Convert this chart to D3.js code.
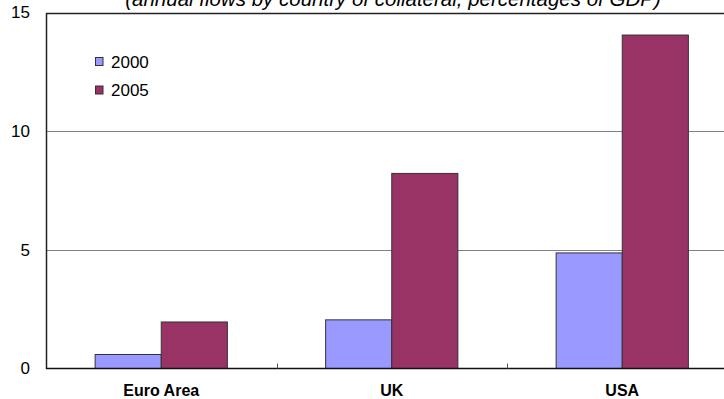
<!DOCTYPE html>
<html><head><meta charset="utf-8">
<script src="https://cdn.jsdelivr.net/npm/d3@7"></script>
<style>body{margin:0;background:#fff}svg{display:block}</style>
</head><body>
<script>
const categories = ["Euro Area", "UK", "USA"];
const seriesNames = ["2000", "2005"];
const values2000 = [0.59, 2.05, 4.87];
const values2005 = [1.96, 8.22, 14.05];
const yTicks = [0, 5, 10, 15];
const title = "(annual flows by country of collateral, percentages of GDP)";
const colors = ["#9999FF", "#993366"];

(function () {
const W = 724, H = 399;
const mL = 46, mR = 737.5, mT = 12.5, mB = 368.5;
const FONT = "Liberation Sans, Arial, sans-serif";
const svg = d3.select("body").append("svg").attr("width", W).attr("height", H);

const x = d3.scaleBand().domain(categories).range([mL, mR]);
const y = d3.scaleLinear().domain([0, 15]).range([mB, mT]);
const inner = d3.scaleBand().domain(seriesNames).range([0, x.bandwidth()]).paddingOuter(0.743);

// title
svg.append("text").attr("x", 393).attr("y", 5.5).attr("text-anchor", "middle")
  .attr("font-family", FONT).attr("font-size", 20.5)
  .attr("font-style", "italic").text(title);

// gridlines
svg.append("g").selectAll("line").data(yTicks.filter(d => d > 0)).join("line")
  .attr("x1", mL).attr("x2", W).attr("y1", d => Math.round(y(d)) + 0.5).attr("y2", d => Math.round(y(d)) + 0.5)
  .attr("stroke", d => d === 15 ? "#222" : "#808080").attr("stroke-width", d => d === 15 ? 1.5 : 1);

// bars
const data = categories.map((c, i) => ({c, vals: [values2000[i], values2005[i]]}));
const g = svg.append("g");
data.forEach(d => {
  d.vals.forEach((v, j) => {
    g.append("rect")
      .attr("x", x(d.c) + inner(seriesNames[j]))
      .attr("y", y(v))
      .attr("width", inner.bandwidth())
      .attr("height", y(0) - y(v))
      .attr("fill", colors[j]).attr("stroke", "#333").attr("stroke-width", 1);
  });
});

// y axis
const yAxis = d3.axisLeft(y).tickValues(yTicks).tickSize(0).tickPadding(16);
const ya = svg.append("g").attr("transform", `translate(${mL},0)`).call(yAxis);
ya.select(".domain").attr("stroke", "#222").attr("stroke-width", 1.5);
ya.selectAll("text").attr("font-family", FONT).attr("font-size", 17).attr("fill", "#000");

// x axis
const xa = svg.append("g").attr("transform", `translate(0,${mB})`);
xa.append("line").attr("x1", mL).attr("x2", W).attr("y1", 0).attr("y2", 0).attr("stroke", "#111").attr("stroke-width", 1.5);
xa.selectAll("line.tk").data(categories.slice(1)).join("line").attr("class", "tk")
  .attr("x1", d => Math.round(x(d)) + 0.5).attr("x2", d => Math.round(x(d)) + 0.5).attr("y1", 0).attr("y2", -5)
  .attr("stroke", "#555").attr("stroke-width", 1);
xa.selectAll("text").data(categories).join("text")
  .attr("x", d => x(d) + x.bandwidth() / 2).attr("y", 27).attr("text-anchor", "middle")
  .attr("font-family", FONT).attr("font-size", 16).attr("font-weight", "bold")
  .text(d => d);

// legend
const lg = svg.append("g");
seriesNames.forEach((s, i) => {
  const yy = 57 + i * 28.5;
  lg.append("rect").attr("x", 95.5).attr("y", yy + 0.5).attr("width", 7.5).attr("height", 8)
    .attr("fill", colors[i]).attr("stroke", "#333").attr("stroke-width", 1);
  lg.append("text").attr("x", 111).attr("y", yy + 10.5).attr("font-family", FONT)
    .attr("font-size", 17).text(s);
});
})();
</script>
</body></html>
